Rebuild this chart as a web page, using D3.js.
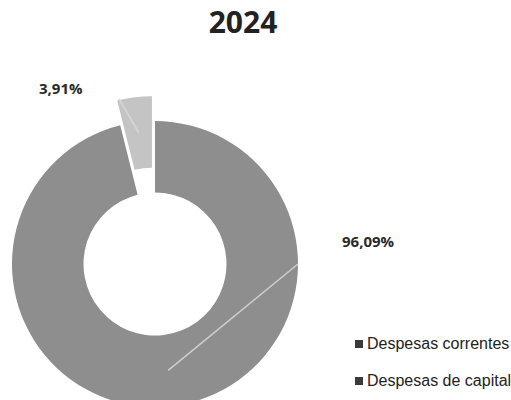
<!DOCTYPE html>
<html><head><meta charset="utf-8">
<script src="https://cdn.jsdelivr.net/npm/d3@7"></script>
<style>body{margin:0;background:#fff}svg{display:block}</style>
</head><body>
<svg id="c" width="511" height="400"></svg>
<script>
const title = "2024";
const categories = ["Despesas correntes", "Despesas de capital"];
const values = [96.09, 3.91];
const labels = ["96,09%", "3,91%"];
const colors = ["#8e8e8e", "#c4c4c4"];
const legendColors = ["#3a3a3a", "#3a3a3a"];

const svg = d3.select("#c");
const cx = 155, cy = 264, rOuter = 143, rInner = 71.5, explode = 25;

svg.append("text").attr("x", 243).attr("y", 33).attr("text-anchor", "middle")
  .attr("font-family", "Open Sans, DejaVu Sans, sans-serif").attr("font-weight", "bold")
  .attr("font-size", 30).attr("fill", "#222").text(title);

const pie = d3.pie().sort(null).value(d => d)(values);
const arc = d3.arc().innerRadius(rInner).outerRadius(rOuter);
const g = svg.append("g").attr("transform", `translate(${cx},${cy})`);

pie.forEach((p, i) => {
  const mid = (p.startAngle + p.endAngle) / 2;
  const off = i === 1 ? explode : 0;
  const dx = Math.sin(mid) * off, dy = -Math.cos(mid) * off;
  g.append("path").attr("d", arc(p)).attr("fill", colors[i])
    .attr("transform", `translate(${dx},${dy})`);
});

// leader lines (visible only over the slices)
const lineStart = [[298, 264], [119, 99]];
pie.forEach((p, i) => {
  const mid = (p.startAngle + p.endAngle) / 2;
  const off = i === 1 ? explode : 0;
  const c = arc.centroid(p);
  const px = cx + c[0] + Math.sin(mid) * off, py = cy + c[1] - Math.cos(mid) * off;
  svg.append("line").attr("x1", lineStart[i][0]).attr("y1", lineStart[i][1])
    .attr("x2", px).attr("y2", py).attr("stroke", i === 0 ? "#cfcfcf" : "#d6d6d6")
    .attr("stroke-width", 1.5);
});

// labels
svg.append("text").attr("x", 342).attr("y", 247)
  .attr("font-family", "Open Sans, sans-serif").attr("font-weight", "bold")
  .attr("font-size", 15).attr("fill", "#2a2a2a").text(labels[0]);
svg.append("text").attr("x", 39).attr("y", 94)
  .attr("font-family", "Open Sans, sans-serif").attr("font-weight", "bold")
  .attr("font-size", 15).attr("fill", "#2a2a2a").text(labels[1]);

// legend
const lg = svg.append("g");
categories.forEach((c, i) => {
  const y = 344 + i * 37;
  lg.append("rect").attr("x", 355).attr("y", y - 4).attr("width", 8).attr("height", 8)
    .attr("fill", legendColors[i]);
  lg.append("text").attr("x", 367).attr("y", y + 5)
    .attr("font-family", "Liberation Sans Narrow, sans-serif").attr("font-size", 16)
    .attr("fill", "#222").text(c);
});
</script>
</body></html>
